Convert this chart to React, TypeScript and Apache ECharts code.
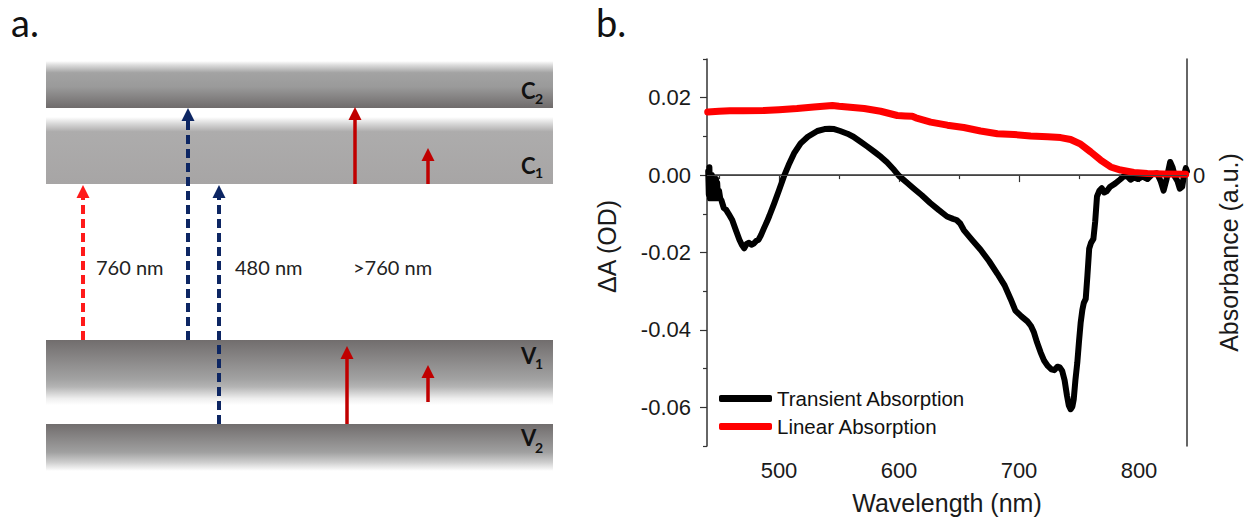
import React, { useEffect, useRef } from 'react';
import * as echarts from 'echarts';

// ---------- data (panel b) ----------
const taWavelength = [
  441, 441.5, 442, 442.5, 443, 443.5, 444, 444.5, 445, 445.5, 446, 447, 447.5, 448, 448.5, 449, 450, 451, 452, 454,
  456, 458, 461, 464, 467, 469, 471, 473, 475, 477, 479, 481, 483, 485, 487.5, 490, 492, 496, 500, 504,
  508, 512.5, 518, 524, 532, 538, 542, 546, 551, 557, 562, 568, 574, 580, 585, 590, 596, 600, 606, 612,
  619, 626, 633, 640, 645, 648, 651, 654, 661, 668, 675, 682, 688, 693, 697, 702, 707, 710, 712.5, 715,
  718, 721, 724, 727, 729.5, 732, 734, 736, 738, 740, 741.5, 743, 744.5, 745.6, 747, 748.6, 750, 751.4, 752.8, 754,
  755.6, 757, 758.5, 760, 762, 763.5, 765, 767, 769, 771, 773, 776, 780, 784, 787, 790, 793, 796, 799, 803,
  807, 811, 815, 818, 820.5, 823, 826, 828, 830, 832, 834, 836, 837.5, 839, 840,
];
const taValues = [
  0.001, -0.005, 0.002, -0.006, -0.001, -0.006, 0.0, -0.004, -0.002, -0.006, -0.003, -0.005, -0.001, -0.006, -0.002, -0.005, -0.004, -0.006, -0.0065, -0.0085,
  -0.009, -0.01, -0.0116, -0.0142, -0.0167, -0.018, -0.0189, -0.0178, -0.0175, -0.018, -0.0177, -0.017, -0.0167, -0.0155, -0.0137, -0.012, -0.0105, -0.0073, -0.0039, -0.0004,
  0.0026, 0.0056, 0.0082, 0.0099, 0.0114, 0.0119, 0.012, 0.0119, 0.0114, 0.0107, 0.0099, 0.0086, 0.0073, 0.0059, 0.0047, 0.0033, 0.0013, -0.0002, -0.0018, -0.0034,
  -0.0052, -0.0072, -0.009, -0.0107, -0.0113, -0.0116, -0.0125, -0.0142, -0.0168, -0.0193, -0.0222, -0.0255, -0.0285, -0.032, -0.035, -0.0365, -0.0378, -0.039, -0.0407, -0.0432,
  -0.0458, -0.048, -0.0493, -0.0502, -0.0504, -0.0495, -0.0497, -0.0506, -0.053, -0.057, -0.0595, -0.0605, -0.0598, -0.058, -0.053, -0.0484, -0.043, -0.0381, -0.0348, -0.033,
  -0.032, -0.026, -0.019, -0.0175, -0.0165, -0.012, -0.0055, -0.004, -0.0034, -0.0045, -0.0042, -0.003, -0.0022, -0.0012, -0.0004, -0.0002, -0.0012, -0.0006, -0.001, -0.0004,
  -0.001, 0.0002, 0.0005, -0.0015, -0.004, -0.001, 0.0034, 0.002, -0.0005, -0.0015, -0.0035, -0.003, 0.0, 0.0018, 0.001,
];
const laWavelength = [
  440.6, 450, 459, 470, 487.5, 500, 515, 529, 544.5, 550, 557, 571, 584.7, 598.6, 605, 611, 614, 626.4, 640.3, 654,
  668, 682, 695.8, 709.7, 723.9, 734.7, 743, 751.4, 759.7, 768, 776.4, 784.7, 795.8, 807, 820.7, 838.9,
];
const laValues = [
  0.163, 0.165, 0.166, 0.166, 0.167, 0.169, 0.172, 0.176, 0.18, 0.178, 0.176, 0.172, 0.165, 0.154, 0.153, 0.152, 0.148, 0.137, 0.129, 0.123,
  0.114, 0.107, 0.105, 0.101, 0.099, 0.097, 0.092, 0.08, 0.06, 0.039, 0.021, 0.013, 0.007, 0.004, 0.003, 0.002,
];
const seriesNames = ['Transient Absorption', 'Linear Absorption'];
const xMajorTicks = [500, 600, 700, 800];
const xMinorTicks = [450, 550, 650, 750];
const yMajorTicks = [-0.06, -0.04, -0.02, 0, 0.02];
const yMinorTicks = [-0.07, -0.05, -0.03, -0.01, 0.01, 0.03];
const rightTickLabels = [0];
const bandNames = [['C', '2'], ['C', '1'], ['V', '1'], ['V', '2']];
const transitionLabels = ['760 nm', '480 nm', '>760 nm'];
const panelLabels = ['a.', 'b.'];

// ---------- styles ----------
const AX_FONT = '"Liberation Sans", Arial, sans-serif';
const A_FONT = 'Lato, "Open Sans", sans-serif';
const TXT = '#1a1a1a';

const grad = (stops: [number, string][]) => ({
  type: 'linear', x: 0, y: 0, x2: 0, y2: 1,
  colorStops: stops.map(([offset, color]) => ({ offset, color })),
});

function arrow(x: number, yBase: number, yTip: number, color: string, dashed: boolean) {
  const headH = 13;
  const headW = 13;
  const lineStyle: any = { stroke: color, lineWidth: dashed ? 4 : 3.5 };
  if (dashed) lineStyle.lineDash = [9, 5];
  return [
    { type: 'line', shape: { x1: x, y1: yBase, x2: x, y2: yTip + headH - 1 }, style: lineStyle },
    {
      type: 'polygon',
      shape: { points: [[x, yTip], [x - headW / 2, yTip + headH], [x + headW / 2, yTip + headH]] },
      style: { fill: color },
    },
  ];
}

function bandLabel(idx: number, yMain: number, ySub: number) {
  const [m, s] = bandNames[idx];
  return [
    { type: 'text', x: 521, y: yMain, style: { text: m, fontSize: 22, fontWeight: 'bold', fontFamily: A_FONT, fill: '#111', align: 'left', verticalAlign: 'middle' } },
    { type: 'text', x: 535, y: ySub, style: { text: s, fontSize: 14, fontWeight: 'bold', fontFamily: A_FONT, fill: '#111', align: 'left', verticalAlign: 'middle' } },
  ];
}

function buildGraphic() {
  const els: any[] = [];
  // bands
  els.push({ type: 'rect', shape: { x: 46, y: 61, width: 507, height: 47 }, style: { fill: grad([[0, '#ffffff'], [0.08, '#dedede'], [0.25, '#a3a3a3'], [0.55, '#9a9a9a'], [1, '#6f6b6b']]) } });
  els.push({ type: 'rect', shape: { x: 46, y: 117, width: 507, height: 67 }, style: { fill: grad([[0, '#ffffff'], [0.1, '#d8d8d8'], [0.22, '#adacac'], [1, '#a7a5a5']]) } });
  els.push({ type: 'rect', shape: { x: 46, y: 340, width: 507, height: 65 }, style: { fill: grad([[0, '#716d6d'], [0.6, '#a2a2a2'], [0.72, '#b4b4b4'], [0.9, '#eeeeee'], [1, '#ffffff']]) } });
  els.push({ type: 'rect', shape: { x: 46, y: 424, width: 507, height: 47 }, style: { fill: grad([[0, '#716d6d'], [0.6, '#a0a0a0'], [0.82, '#cfcfcf'], [1, '#ffffff']]) } });
  // arrows
  els.push(...arrow(83, 340, 185, '#ff1a1a', true));
  els.push(...arrow(188, 340, 108, '#0d2663', true));
  els.push(...arrow(219, 424, 185, '#0d2663', true));
  els.push(...arrow(355, 184, 107, '#c00000', false));
  els.push(...arrow(428, 184, 148, '#c00000', false));
  els.push(...arrow(347, 424, 346, '#c00000', false));
  els.push(...arrow(428, 402, 365, '#c00000', false));
  // band labels
  els.push(...bandLabel(0, 90, 98));
  els.push(...bandLabel(1, 165, 172));
  els.push(...bandLabel(2, 355, 363));
  els.push(...bandLabel(3, 437, 447));
  // transition labels
  const tx = [96, 235, 353];
  transitionLabels.forEach((t, i) => {
    els.push({ type: 'text', x: tx[i], y: 267, style: { text: t, fontSize: 20, fontFamily: A_FONT, fill: '#222', align: 'left', verticalAlign: 'middle' } });
  });
  // panel labels
  els.push({ type: 'text', x: 11, y: 22, style: { text: panelLabels[0], fontSize: 38, fontFamily: A_FONT, fill: '#111', align: 'left', verticalAlign: 'middle' } });
  els.push({ type: 'text', x: 596, y: 22, style: { text: panelLabels[1], fontSize: 38, fontFamily: A_FONT, fill: '#111', align: 'left', verticalAlign: 'middle' } });
  return els;
}

export default function App() {
  const ref = useRef<HTMLDivElement>(null);
  useEffect(() => {
    if (!ref.current) return;
    const chart = echarts.init(ref.current, undefined, { renderer: 'svg' });
    const taData = taWavelength.map((w, i) => [w, taValues[i]]);
    const laData = laWavelength.map((w, i) => [w, laValues[i]]);
    const axisLine = { show: true, lineStyle: { color: '#333', width: 1.5 } };
    const option: any = {
      animation: false,
      backgroundColor: '#ffffff',
      grid: { left: 707, right: 63, top: 59, bottom: 83, containLabel: false },
      legend: {
        data: seriesNames,
        orient: 'vertical',
        left: 714,
        top: 383,
        icon: 'roundRect',
        itemWidth: 53,
        itemHeight: 7,
        itemGap: 7,
        textStyle: { fontSize: 20.5, color: '#111', fontFamily: AX_FONT },
      },
      xAxis: [
        {
          type: 'value', min: 440, max: 840, position: 'bottom',
          axisLine,
          axisTick: { show: true, length: 7, customValues: xMajorTicks, lineStyle: { color: '#333', width: 1.2 } },
          axisLabel: { customValues: xMajorTicks, fontSize: 22, color: TXT, fontFamily: AX_FONT, margin: 13 },
          splitLine: { show: false },
          name: 'Wavelength (nm)', nameLocation: 'middle', nameGap: 44,
          nameTextStyle: { fontSize: 25, color: TXT, fontFamily: AX_FONT },
        },
        {
          type: 'value', min: 440, max: 840, position: 'bottom',
          axisLine: { show: false },
          axisTick: { show: true, length: 4, customValues: xMinorTicks, lineStyle: { color: '#333', width: 1.2 } },
          axisLabel: { show: false },
          splitLine: { show: false },
        },
      ],
      yAxis: [
        {
          type: 'value', min: -0.07, max: 0.03, position: 'left',
          axisLine,
          axisTick: { show: true, length: 7, customValues: yMajorTicks, lineStyle: { color: '#333', width: 1.2 } },
          axisLabel: { customValues: yMajorTicks, formatter: (v: number) => v.toFixed(2), fontSize: 22, color: TXT, fontFamily: AX_FONT, margin: 16 },
          splitLine: { show: false },
          name: 'ΔA (OD)', nameLocation: 'middle', nameGap: 88, nameRotate: 90,
          nameTextStyle: { fontSize: 25, color: TXT, fontFamily: AX_FONT, padding: [0, 0, 0, 12] },
        },
        {
          type: 'value', min: -0.07, max: 0.03, position: 'left',
          axisLine: { show: false },
          axisTick: { show: true, length: 4, customValues: yMinorTicks, lineStyle: { color: '#333', width: 1.2 } },
          axisLabel: { show: false },
          splitLine: { show: false },
        },
        {
          type: 'value', min: -0.7, max: 0.3, position: 'right',
          axisLine,
          axisTick: { show: false },
          axisLabel: { customValues: rightTickLabels, formatter: () => '0', fontSize: 22, color: TXT, fontFamily: AX_FONT, margin: 6 },
          splitLine: { show: false },
          name: 'Absorbance (a.u.)', nameLocation: 'middle', nameGap: 29, nameRotate: 90,
          nameTextStyle: { fontSize: 25, color: TXT, fontFamily: AX_FONT },
        },
      ],
      graphic: buildGraphic(),
      series: [
        {
          name: 'zero', type: 'line', data: [], z: 1, xAxisIndex: 0, yAxisIndex: 0,
          markLine: {
            silent: true, symbol: ['none', 'none'], label: { show: false },
            lineStyle: { color: '#444', width: 1, type: 'solid' },
            data: [{ yAxis: 0 }],
          },
        },
        {
          name: seriesNames[0], type: 'line', data: taData, xAxisIndex: 0, yAxisIndex: 0, z: 2,
          showSymbol: false, color: '#000000',
          lineStyle: { width: 6, color: '#000000', join: 'round', cap: 'round' },
        },
        {
          name: seriesNames[1], type: 'line', data: laData, xAxisIndex: 0, yAxisIndex: 2, z: 3,
          showSymbol: false, color: '#ff0000',
          lineStyle: { width: 7, color: '#ff0000', join: 'round', cap: 'round' },
        },
      ],
    };
    chart.setOption(option);
    return () => chart.dispose();
  }, []);
  return (
    <div
      ref={ref}
      style={{ position: 'fixed', left: 0, top: 0, width: 1250, height: 529, background: '#fff' }}
    />
  );
}
